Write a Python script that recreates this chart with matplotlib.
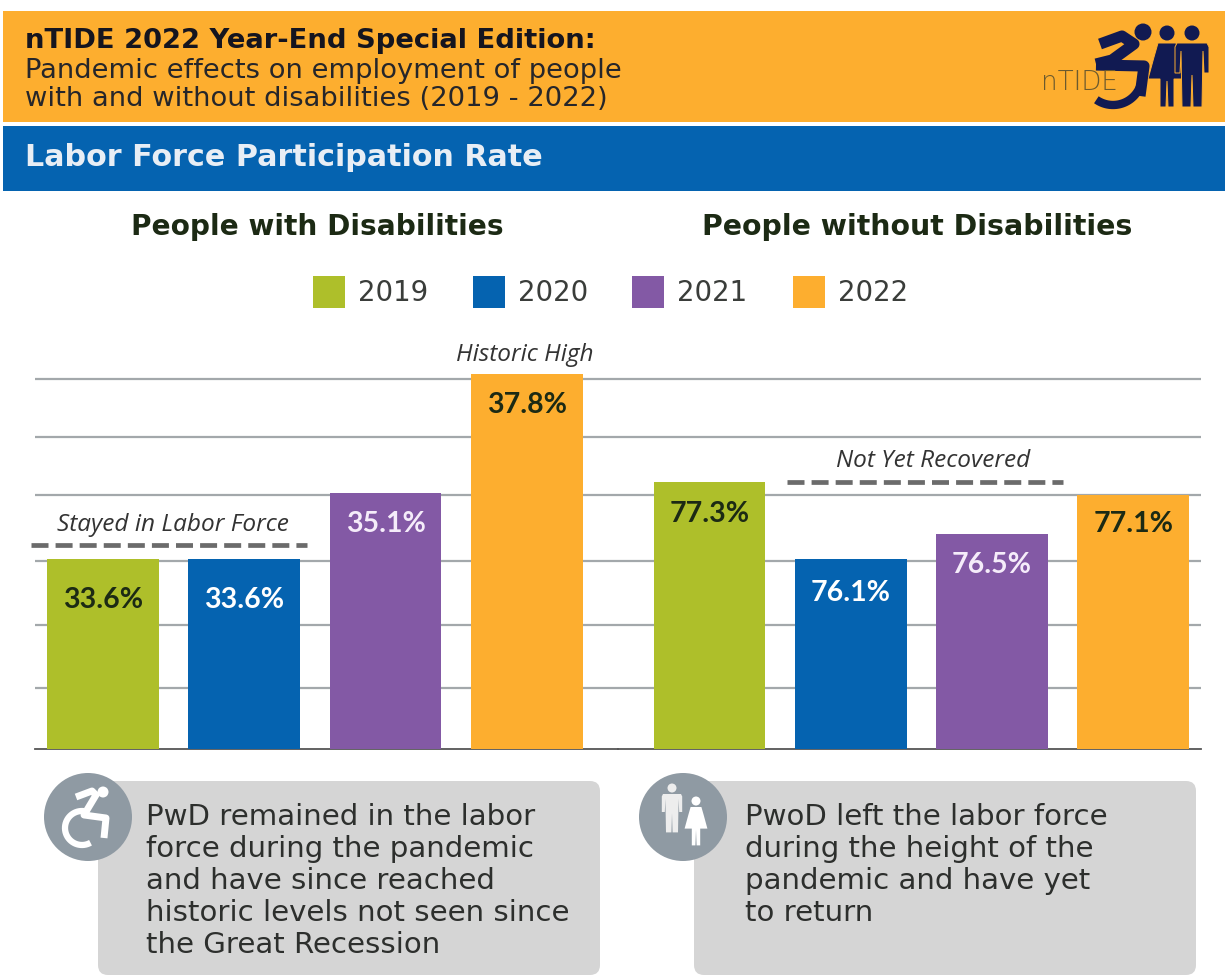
import numpy as np
import matplotlib
matplotlib.use("Agg")
import matplotlib.pyplot as plt
from matplotlib.patches import Rectangle, Circle, FancyBboxPatch, Polygon

years = ["2019", "2020", "2021", "2022"]
pwd_values = [33.6, 33.6, 35.1, 37.8]
pwod_values = [77.3, 76.1, 76.5, 77.1]
pwd_grid = [30.684, 32.114, 33.566, 35.06, 36.38, 37.7]
pwod_grid = [74.1, 75.08, 76.077, 77.104, 78.007, 78.91]

GREEN = "#AEBF2A"
BLUE = "#0563B0"
PURPLE = "#8359A5"
ORANGE = "#FDAE2F"
NAVY = "#111a52"
DARK = "#1c2a14"
INK = "#3a3d3a"
colors = [GREEN, BLUE, PURPLE, ORANGE]
label_colors = [DARK, "white", "#f5ecfa", DARK]

W, H = 1225, 975
fig = plt.figure(figsize=(W / 100, H / 100), dpi=100, facecolor="white")


def px_axes(x0, y0, x1, y1):
    # axes placed by pixel box, y measured from the top of the figure
    return fig.add_axes([x0 / W, 1 - y1 / H, (x1 - x0) / W, (y1 - y0) / H])


def bar_panel(box, xlim, ylim, values, grid, drops):
    ax = px_axes(*box)
    ax.patch.set_alpha(0)
    ax.set_xlim(*xlim)
    ax.set_ylim(*ylim)
    ax.set_yticks(grid)
    ax.set_xticks([])
    ax.tick_params(left=False, labelleft=False)
    ax.grid(axis="y", color="#a3a8ab", lw=1.6)
    ax.set_axisbelow(True)
    for s in ["top", "left", "right"]:
        ax.spines[s].set_visible(False)
    ax.spines["bottom"].set_color("#555555")
    ax.spines["bottom"].set_linewidth(1.3)
    ax.bar(range(4), values, width=0.79, color=colors, zorder=3)
    # value labels hang under each bar top, offsets in points
    for i, v in enumerate(values):
        ax.annotate(f"{v}%", (i, v), xytext=(0, -drops[i] * 0.72), textcoords="offset points",
                    ha="center", va="center", zorder=4, fontsize=20.5, fontweight="bold",
                    color=label_colors[i], family="Lato")
    return ax


ax_left = bar_panel((35, 370, 618, 749), (-0.481, 3.645), (29.3, 37.9), pwd_values, pwd_grid,
                    [41, 41, 31, 31])
ax_right = bar_panel((618, 370, 1201, 749), (-0.648, 3.48), (73.15, 79.05), pwod_values, pwod_grid,
                     [32, 34, 31, 29])

# page furniture, drawn in pixel coordinates
page = fig.add_axes([0, 0, 1, 1], zorder=5)
page.set_xlim(0, W)
page.set_ylim(H, 0)
page.axis("off")

page.add_patch(Rectangle((3, 11), W, 111, color=ORANGE, lw=0))
page.add_patch(Rectangle((3, 126), W, 65, color=BLUE, lw=0))

page.text(25, 41, "nTIDE 2022 Year-End Special Edition:", fontsize=19.7, fontweight="bold",
          color="#15151f", va="center")
page.text(25, 71, "Pandemic effects on employment of people", fontsize=19.7,
          color="#26262a", va="center")
page.text(25, 99, "with and without disabilities (2019 - 2022)", fontsize=19.7,
          color="#26262a", va="center")
page.text(25, 158, "Labor Force Participation Rate", fontsize=21.7, fontweight="bold",
          color="#e8eef5", va="center")
page.text(317, 227, "People with Disabilities", fontsize=20.2, fontweight="bold",
          color=DARK, ha="center", va="center")
page.text(917, 227, "People without Disabilities", fontsize=20.4, fontweight="bold",
          color=DARK, ha="center", va="center")

# legend row
for year, c, sx in zip(years, colors, [313, 473, 632, 793]):
    page.add_patch(Rectangle((sx, 276), 32, 32, color=c, lw=0))
    page.text(sx + 45, 293, year, fontsize=19.9, color=INK, va="center")

# callouts above the bars
for txt, cx, cy in [("Stayed in Labor Force", 173, 525), ("Not Yet Recovered", 933, 461),
                    ("Historic High", 525, 355)]:
    page.text(cx, cy, txt, fontsize=17.6, style="italic", family="Open Sans",
              color="#333333", ha="center", va="center")
page.plot([31, 307], [545, 545], color="#6b6b6b", lw=3.4, dashes=(3.6, 1.5))
page.plot([787, 1063], [482, 482], color="#6b6b6b", lw=3.4, dashes=(3.6, 1.5))

# grey note boxes
for x0 in [98, 694]:
    page.add_patch(FancyBboxPatch((x0 + 10, 791), 482, 174, boxstyle="round,pad=10,rounding_size=10",
                                  fc="#d5d5d5", ec="none"))
notes_left = ["PwD remained in the labor", "force during the pandemic", "and have since reached",
              "historic levels not seen since", "the Great Recession"]
notes_right = ["PwoD left the labor force", "during the height of the", "pandemic and have yet", "to return"]
for lines, x in [(notes_left, 146), (notes_right, 745)]:
    for i, line in enumerate(lines):
        page.text(x, 817 + i * 32, line, fontsize=21.1, color="#2d2f2d", va="center")


def arc(cx, cy, r, a0, a1):
    t = np.radians(np.linspace(a0, a1, 40))
    return cx + r * np.cos(t), cy + r * np.sin(t)


def person(cx, top, s, color, dress=False, edge="none"):
    page.add_patch(Circle((cx, top), 7.5 * s, color=color, lw=0))
    if dress:
        pts = [(-9, 10), (9, 10), (13, 24), (19, 46), (7, 46), (7, 74), (1, 74), (0, 48),
               (-1, 74), (-7, 74), (-7, 46), (-19, 46), (-13, 24)]
    else:
        pts = [(-15, 10), (15, 10), (17, 14), (17, 40), (12, 40), (11, 18), (10, 74), (1, 74), (0, 42),
               (-1, 74), (-10, 74), (-11, 18), (-12, 40), (-17, 40), (-17, 14)]
    page.add_patch(Polygon([(cx + s * a, top + s * b) for a, b in pts], fc=color, ec=edge, lw=0.7))


# round icons on the note boxes
page.add_patch(Circle((88, 817), 44, color="#8f9aa3", lw=0))
page.plot(*arc(82, 828, 17, 60, 290), color="white", lw=4.5, solid_capstyle="butt")
page.plot([76, 92, 96, 84, 106, 104], [797, 791, 795, 815, 818, 838], color="white", lw=5,
          solid_joinstyle="round", solid_capstyle="butt")
page.add_patch(Circle((103, 792), 5.5, color="white", lw=0))

page.add_patch(Circle((683, 817), 44, color="#8f9aa3", lw=0))
person(672, 788, 0.6, "#ededed")
person(696, 801, 0.6, "white", dress=True)

# logo in the header
page.text(1041, 82, "nTIDE", fontsize=18.8, color="#6b5a2e", va="center", fontweight="light")
page.plot(*arc(1113, 76, 29, 20, 125), color=NAVY, lw=6, solid_capstyle="butt")
page.plot([1100, 1122, 1134, 1112, 1096], [44, 36, 44, 60, 64], color=NAVY, lw=8,
          solid_joinstyle="round", solid_capstyle="butt")
page.plot([1096, 1144, 1140], [65, 66, 96], color=NAVY, lw=8,
          solid_joinstyle="round", solid_capstyle="butt")
page.add_patch(Circle((1143, 32), 8.5, color=NAVY, lw=0))
person(1167, 33, 1.0, NAVY, dress=True, edge=ORANGE)
person(1192, 33, 1.0, NAVY, edge=ORANGE)

fig.savefig("out.png", dpi=100)
